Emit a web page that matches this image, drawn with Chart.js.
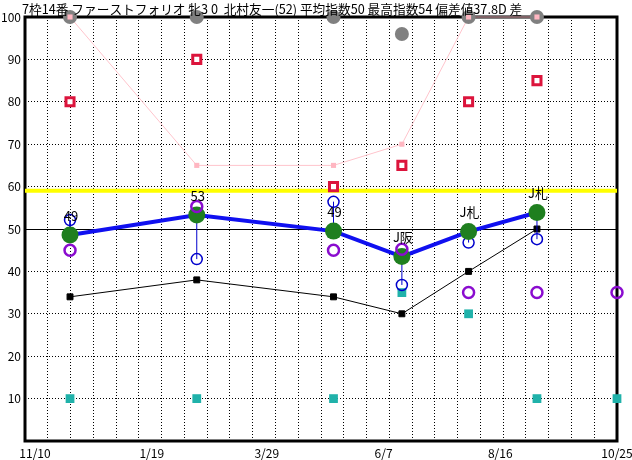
<!DOCTYPE html>
<html>
<head>
<meta charset="utf-8">
<script src="https://cdn.jsdelivr.net/npm/chart.js@4.4.0/dist/chart.umd.min.js"></script>
<style>
  html, body { margin: 0; padding: 0; background: #fff; }
  #wrap { width: 632px; height: 460px; }
</style>
</head>
<body>
<div id="wrap"><canvas id="chart"></canvas></div>
<script>
// days counted from 11/04
const titleText = '7枠14番 ファーストフォリオ 牝3 0  北村友一(52) 平均指数50 最高指数54 偏差値37.8D 差';
const dateLabels = ['11/10', '1/19', '3/29', '6/7', '8/16', '10/25'];
const dateTicks = [6, 76, 145, 215, 285, 355];
const yTicks = [10, 20, 30, 40, 50, 60, 70, 80, 90, 100];
const raceDays = [27, 103, 185, 226, 266, 307];
const today = 355;

const indexVals = [48.6, 53.3, 49.5, 43.5, 49.4, 53.9];
const indexLabels = ['49', '53', '49', 'J阪', 'J札', 'J札'];
const blueVals = [52.1, 42.9, 56.4, 36.8, 46.8, 47.6];
const purpleVals = [45, 55.3, 45, 45.2, 35, 35, 35];
const blackVals = [34, 38, 34, 30, 40, 50];
const tealVals = [10, 10, 10, 35, 30, 10, 10];
const crimsonVals = [80, 90, 60, 65, 80, 85];
const pinkVals = [100, 65, 65, 70, 100, 100];
const grayVals = [100, 100, 100, 96, 100, 100];
const yellowLevel = 59;
const midLine = 50;

const allDays = raceDays.concat([today]);
const pts = (xs, ys) => ys.map((y, i) => ({ x: xs[i], y: y }));
const connectors = raceDays.flatMap((d, i) => [
  { x: d, y: blueVals[i] }, { x: d, y: indexVals[i] }, { x: d, y: null }
]);

const FONT = "'Noto Sans CJK JP', 'Noto Sans', sans-serif";

const framePlugin = {
  id: 'frame',
  beforeDatasetsDraw(chart) {
    const { ctx, chartArea: a, scales } = chart;
    ctx.save();
    ctx.strokeStyle = '#000';
    ctx.lineWidth = 1;
    const y50 = Math.round(scales.y.getPixelForValue(midLine)) + 0.5;
    ctx.beginPath();
    ctx.moveTo(a.left, y50);
    ctx.lineTo(a.right, y50);
    ctx.stroke();
    ctx.lineWidth = 3;
    ctx.strokeRect(a.left, a.top, a.right - a.left, a.bottom - a.top);
    ctx.restore();
  },
  afterDatasetsDraw(chart) {
    const { ctx } = chart;
    ctx.save();
    ctx.fillStyle = '#000';
    ctx.font = '12.7px ' + FONT;
    ctx.textAlign = 'left';
    ctx.textBaseline = 'middle';
    ctx.fillText(titleText, 22, 9);
    const meta = chart.getDatasetMeta(9);
    ctx.font = '13px ' + FONT;
    ctx.textAlign = 'center';
    meta.data.forEach((p, i) => {
      ctx.fillText(indexLabels[i], p.x + 1, p.y - 19);
    });
    ctx.restore();
  }
};

new Chart(document.getElementById('chart'), {
  type: 'scatter',
  data: {
    datasets: [
      { data: [{ x: 0, y: yellowLevel }, { x: today, y: yellowLevel }], showLine: true,
        borderColor: '#ffff00', borderWidth: 4, pointRadius: 0, order: 20 },
      { data: pts(raceDays, pinkVals), showLine: true, borderColor: '#ffc4cc', borderWidth: 1,
        pointRadius: 0, order: 19 },
      { data: pts(raceDays, grayVals), pointRadius: 7, backgroundColor: '#808080',
        borderWidth: 0, order: 18 },
      { data: pts(raceDays, pinkVals), pointStyle: 'rect', pointRadius: 3.6,
        backgroundColor: '#ffb6c1', borderWidth: 0, order: 17 },
      { data: pts(raceDays, crimsonVals), pointStyle: 'rect', pointRadius: 5.7,
        backgroundColor: '#ffffff', borderColor: '#dc143c', borderWidth: 3, order: 16 },
      { data: pts(allDays, tealVals), pointStyle: 'rect', pointRadius: 6.2,
        backgroundColor: '#20b2aa', borderWidth: 0, order: 15 },
      { data: pts(raceDays, blackVals), showLine: true, borderColor: '#000', borderWidth: 1,
        pointStyle: 'rect', pointRadius: 4.2, backgroundColor: '#000', order: 14 },
      { data: connectors, showLine: true, spanGaps: false, borderColor: '#0000cc', borderWidth: 1,
        pointRadius: 0, order: 13 },
      { data: pts(raceDays, blueVals), pointRadius: 5.5, backgroundColor: 'rgba(0,0,0,0)',
        borderColor: '#0000cc', borderWidth: 1.5, order: 12 },
      { data: pts(raceDays, indexVals), showLine: true, borderColor: '#1010f0', borderWidth: 4,
        pointRadius: 8.5, backgroundColor: '#1f7f1f', pointBorderWidth: 0, order: 11 },
      { data: pts(allDays, purpleVals), pointRadius: 5.5, backgroundColor: 'rgba(0,0,0,0)',
        borderColor: '#8a0ccf', borderWidth: 2.5, order: 10 }
    ].map(d => Object.assign({ clip: false }, d))
  },
  options: {
    responsive: true,
    maintainAspectRatio: false,
    animation: false,
    events: [],
    layout: { padding: { top: 17, right: 15, bottom: 0, left: 0 } },
    plugins: { legend: { display: false }, tooltip: { enabled: false }, title: { display: false } },
    scales: {
      x: {
        type: 'linear', min: 0, max: today,
        afterBuildTicks: s => { s.ticks = dateTicks.map(v => ({ value: v })); },
        afterFit: s => { s.height = 19; s.paddingLeft = 0; s.paddingRight = 0; },
        grid: { display: false },
        border: { display: false },
        ticks: {
          autoSkip: false, maxRotation: 0, padding: -3, color: '#000',
          font: { size: 12, family: FONT },
          callback: v => dateLabels[dateTicks.indexOf(v)]
        }
      },
      x2: {
        type: 'linear', position: 'top', min: 0, max: today,
        afterBuildTicks: s => {
          s.ticks = Array.from({ length: 27 }, (_, k) => ({ value: k * today / 26 }));
        },
        afterFit: s => { s.height = 0; s.paddingLeft = 0; s.paddingRight = 0; },
        grid: { color: '#000', lineWidth: 1, drawTicks: false },
        border: { display: false, dash: [1, 2] },
        ticks: { display: false }
      },
      y: {
        min: 0, max: 100,
        afterBuildTicks: s => { s.ticks = yTicks.map(v => ({ value: v })); },
        afterFit: s => { s.width = 25; },
        grid: { color: '#000', lineWidth: 1, drawTicks: false },
        border: { display: false, dash: [1, 2] },
        ticks: { padding: 4, color: '#000', font: { size: 12, family: FONT } }
      }
    }
  },
  plugins: [framePlugin]
});
</script>
</body>
</html>
